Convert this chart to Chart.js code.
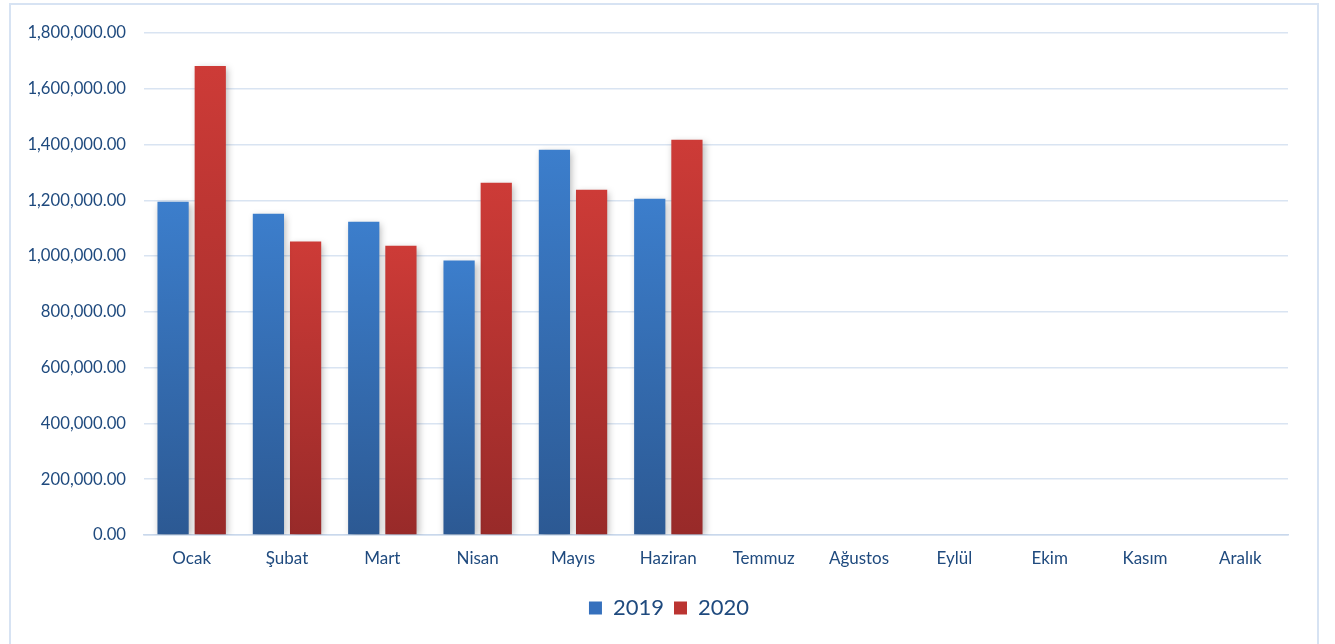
<!DOCTYPE html>
<html>
<head>
<meta charset="utf-8">
<script src="https://cdn.jsdelivr.net/npm/chart.js@4.4.0/dist/chart.umd.min.js"></script>
<style>
  html, body { margin: 0; padding: 0; background: #fff; }
  #frame {
    position: absolute; left: 9px; top: 3px; width: 1306px; height: 700px;
    border: 2px solid #d7e3f3;
  }
  #wrap { position: absolute; left: 0; top: 0; width: 1335px; height: 644px; }
</style>
</head>
<body>
<div id="frame"></div>
<div id="wrap"><canvas id="chart" width="1335" height="644"></canvas></div>
<script>
// months
const months = ['Ocak', 'Şubat', 'Mart', 'Nisan', 'Mayıs', 'Haziran', 'Temmuz', 'Ağustos', 'Eylül', 'Ekim', 'Kasım', 'Aralık'];

// values
const values2019 = [1195000, 1152000, 1123000, 984000, 1381000, 1206000, null, null, null, null, null, null];
const values2020 = [1682000, 1052000, 1037000, 1263000, 1238000, 1417000, null, null, null, null, null, null];

const seriesNames = ['2019', '2020'];

const textColor = '#1f4a7e';
const fontFamily = 'Lato, "Open Sans", sans-serif';

// gradient from bar top (light) to base (dark)
function barGradient(topColor, bottomColor) {
    return (ctx) => {
        const chart = ctx.chart;
        const area = chart.chartArea;
        if (!area || ctx.type !== 'data' || ctx.raw == null) return topColor;
        const yScale = chart.scales.y;
        const yTop = yScale.getPixelForValue(ctx.raw);
        const yBase = yScale.getPixelForValue(0);
        if (!isFinite(yTop) || yBase - yTop < 1) return topColor;
        const g = chart.ctx.createLinearGradient(0, yTop, 0, yBase);
        g.addColorStop(0, topColor);
        g.addColorStop(1, bottomColor);
        return g;
    };
}

const shadowPlugin = {
    id: 'barShadow',
    beforeDatasetsDraw(chart) {
        const c = chart.ctx;
        c.save();
        c.shadowColor = 'rgba(0,0,0,0.28)';
        c.shadowBlur = 7;
        c.shadowOffsetX = 2;
        c.shadowOffsetY = 2;
    },
    afterDatasetsDraw(chart) {
        chart.ctx.restore();
    }
};

// legend sits centred on the whole frame, not on the plot
const legendShift = {
    id: 'legendShift',
    afterLayout(chart) {
        if (chart.legend) {
            chart.legend.left += 25;
            chart.legend.right += 25;
        }
    }
};

const legendFills = ['#3570bd', '#bb3431'];

new Chart(document.getElementById('chart').getContext('2d'), {
    type: 'bar',
    data: {
        labels: months,
        datasets: [
            {
                label: seriesNames[0],
                data: values2019,
                backgroundColor: barGradient('#3c7ecc', '#2c5993'),
                borderWidth: 0,
            },
            {
                label: seriesNames[1],
                data: values2020,
                backgroundColor: barGradient('#cd3b37', '#982a29'),
                borderWidth: 0,
            }
        ]
    },
    plugins: [shadowPlugin, legendShift],
    options: {
        responsive: false,
        animation: false,
        devicePixelRatio: 1,
        categoryPercentage: 0.78,
        barPercentage: 0.84,
        layout: { padding: { top: 33, right: 47, left: 0, bottom: 15 } },
        plugins: {
            tooltip: { enabled: false },
            legend: {
                position: 'bottom',
                labels: {
                    color: textColor,
                    font: { family: fontFamily, size: 22 },
                    boxWidth: 13,
                    boxHeight: 13,
                    padding: 10,
                    generateLabels: (chart) => chart.data.datasets.map((ds, i) => ({
                        text: ds.label,
                        fillStyle: legendFills[i],
                        strokeStyle: legendFills[i],
                        lineWidth: 0,
                        fontColor: textColor,
                        datasetIndex: i,
                        hidden: false,
                    })),
                },
            },
        },
        scales: {
            x: {
                grid: { display: false, drawTicks: false },
                border: { display: true, color: '#c9d8ec', width: 1.5 },
                ticks: {
                    color: textColor,
                    font: { family: fontFamily, size: 17 },
                    padding: 13,
                    maxRotation: 0,
                    autoSkip: false,
                },
                afterFit: (scale) => { scale.height = 52; },
            },
            y: {
                min: 0,
                max: 1800000,
                grid: { color: '#d9e4f2', lineWidth: 1.5, drawTicks: false },
                border: { display: false },
                ticks: {
                    stepSize: 200000,
                    color: textColor,
                    font: { family: fontFamily, size: 16.7 },
                    padding: 18,
                    callback: (v) => v.toLocaleString('en-US', { minimumFractionDigits: 2, maximumFractionDigits: 2 }),
                },
                afterFit: (scale) => { scale.width = 144; },
            }
        }
    }
});
</script>
</body>
</html>
